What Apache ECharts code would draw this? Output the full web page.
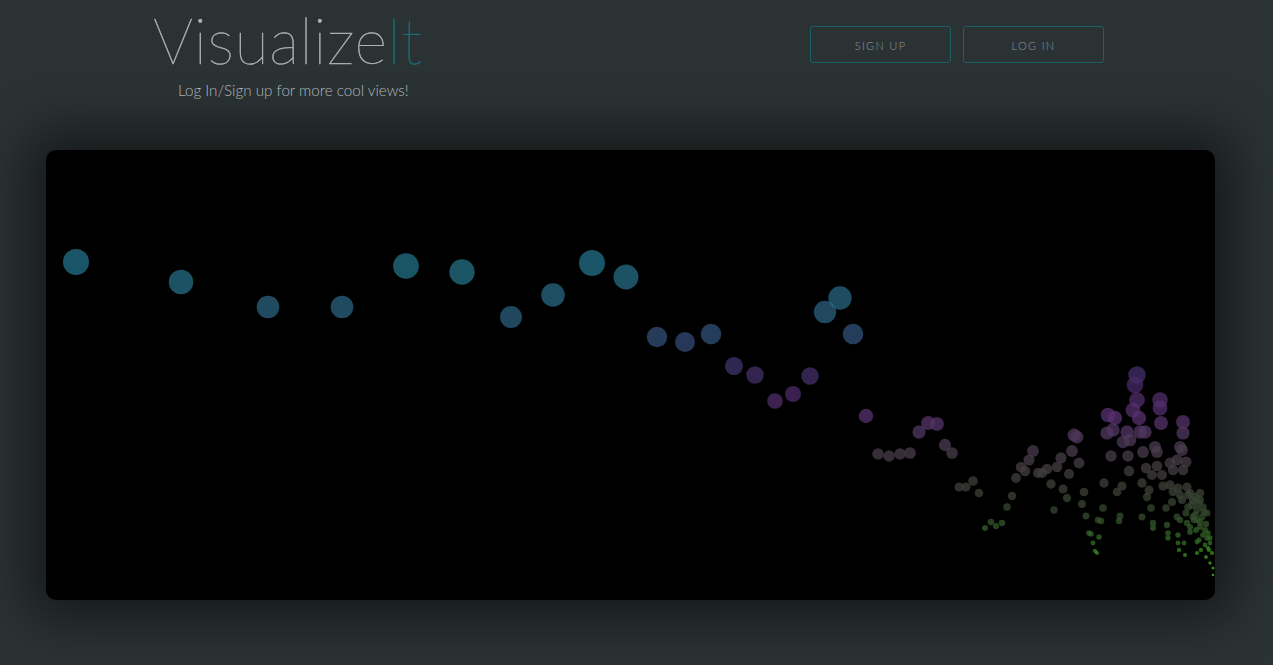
<!DOCTYPE html>
<html><head><meta charset="utf-8">
<script src="https://cdn.jsdelivr.net/npm/echarts@6/dist/echarts.min.js"></script>
<style>
html,body{margin:0;padding:0;width:1273px;height:665px;overflow:hidden;background:#2b3234;font-family:Lato,"Open Sans",sans-serif;}
#logo{position:absolute;left:153px;top:2px;font-size:63px;font-weight:200;color:#aeb3b4;-webkit-text-stroke:0.5px #aeb3b4;letter-spacing:0.6px;line-height:76px;white-space:nowrap;}
#logo span{color:#1b6c74;-webkit-text-stroke:0.6px #1b6c74;}
#sub{position:absolute;left:178px;top:81px;font-size:15.2px;font-weight:300;color:#b6babb;white-space:nowrap;}
.btn{position:absolute;top:26px;width:139px;height:35px;border:1px solid #1d5f66;border-radius:3px;color:#8f9597;font-size:11px;font-weight:300;letter-spacing:1.3px;text-align:center;line-height:37px;}
#panel{position:absolute;left:46px;top:150px;width:1169px;height:450px;background:#000;border-radius:10px;overflow:hidden;box-shadow:0 0 50px 18px rgba(0,0,0,0.5);}
#chart{width:1169px;height:450px;}
</style></head>
<body>
<div id="logo">Visualize<span>It</span></div>
<div id="sub">Log In/Sign up for more cool views!</div>
<div class="btn" style="left:810px">SIGN UP</div>
<div class="btn" style="left:963px">LOG IN</div>
<div id="panel"><div id="chart"></div></div>
<script>
// x position and height values in chart units (x: 0..1169, y: 0..450)
const mainX = [30,135,222,296,360,416,465,507,546,580,611,639,665,688,709,729,747,764,779,794,807,820,832,843,854,864,873,882,891,899,906,913,920,927,933,939,945,950,956];
const mainY = [338,318,293,293,334,328,283,305,337,323,263,258,266,234,225,199,206,224,288,302,266,184,146,144,146,147,168,177,176,155,147,113,113,119,107,72,78,74,77];
const midX = [961,966,970,975,979,983,987,992,996,1001,1005,1008,1011,1015,1017,1021,1023,1026,1028,1031,1033,1038,1036,1040,1043,1045,1047,1049,1051,1052,1053];
const midY = [93,104,122,133,129,140,149,127,127,131,116,90,133,142,111,102,126,149,165,163,137,108,96,84,67,66,57,49,47,80,63];
const clusterX = [1091,1089,1091,1087,1093,1114,1114,1062,1069,1115,1137,1137,1061,1067,1081,1077,1084,1094,1099,1065,1082,1097,1109,1111,1134,1136,1083,1100,1111,1124,1131,1140,1127,1137,1106,1116,1058,1076,1071,1096,1103,1117,1124,1127,1132,1141,1134,1144,1057,1105,1120,1101,1126,1136,1142,1147,1154,1152,1157,1055,1074,1073,1096,1107,1107,1121,1131,1134,1141,1147,1151,1156,1161,1144,1154,1159,1162,1122,1122,1132,1132,1138,1151,1161,1164,1162,1166,1133,1139,1151,1164,1167,1167];
const clusterY = [225,215,200,190,182,200,192,185,182,177,178,167,167,170,168,158,160,168,168,144,144,148,153,148,153,150,129,132,134,137,140,138,130,130,125,125,117,114,108,117,110,114,115,108,112,113,105,107,92,92,92,103,98,100,93,100,107,97,93,79,84,79,83,77,72,75,83,80,77,83,80,83,87,73,73,70,67,67,62,65,57,57,58,62,57,52,47,50,45,47,37,32,25];
const denseX = [1149,1142,1154,1146,1151,1158,1140,1148,1154,1160,1144,1150,1157,1153,1159,1163,1155,1160,1164,1149];
const denseY = [103,105,100,95,90,88,87,80,78,76,68,70,65,60,55,50,50,43,62,85];

const heightStops = [25, 340];
const palette = ['#52d018','#347024','#34482e','#403f3a','#4a3c4f','#583270','#492965','#373e6e','#2d5c7d','#276a82','#227389'];

const zip = (xs, ys) => xs.map((x, i) => [x, ys[i]]);
const allPoints = zip(mainX, mainY).concat(zip(midX, midY), zip(clusterX, clusterY), zip(denseX, denseY));

const chart = echarts.init(document.getElementById('chart'), null, {renderer: 'canvas'});
chart.setOption({
  backgroundColor: 'transparent',
  animation: false,
  grid: {left: 0, right: 0, top: 0, bottom: 0},
  xAxis: {type: 'value', min: 0, max: 1169, show: false},
  yAxis: {type: 'value', min: 0, max: 450, show: false},
  visualMap: {
    show: false,
    type: 'continuous',
    dimension: 1,
    min: heightStops[0],
    max: heightStops[1],
    inRange: {color: palette, symbolSize: [2.5, 26.2]}
  },
  series: [{
    type: 'scatter',
    data: allPoints,
    itemStyle: {opacity: 0.75},
    emphasis: {disabled: true}
  }]
});
</script>
</body></html>
